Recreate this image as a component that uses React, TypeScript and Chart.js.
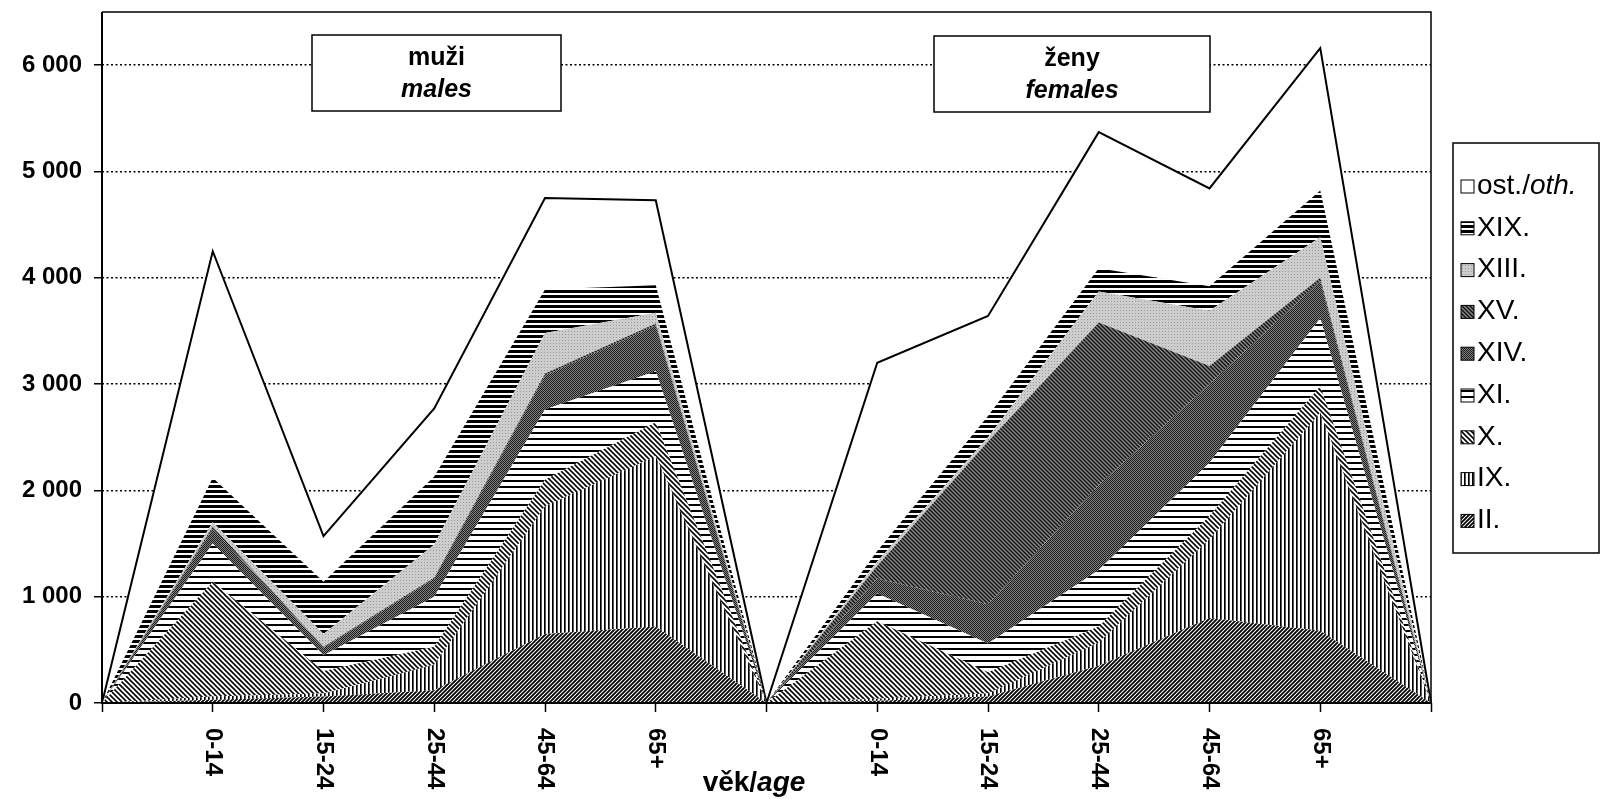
import React, { useEffect, useRef } from 'react';
import { Chart, registerables } from 'chart.js';
Chart.register(...registerables);

// ---- data (males: 0-14..65+, separator, females: 0-14..65+) ----
const categories = ['', '0-14', '15-24', '25-44', '45-64', '65+', '', '0-14', '15-24', '25-44', '45-64', '65+', ''];
const II = [0, 30, 60, 120, 650, 720, 0, 20, 60, 350, 800, 680, 0];
const IX = [0, 30, 30, 240, 1200, 1600, 0, 20, 30, 220, 740, 2050, 0];
const X = [0, 1080, 210, 170, 250, 320, 0, 730, 200, 150, 220, 250, 0];
const XI = [0, 360, 150, 470, 660, 480, 0, 260, 270, 530, 500, 640, 0];
const XIV = [0, 140, 70, 170, 320, 430, 0, 140, 370, 800, 740, 350, 0];
const XV = [0, 20, 10, 10, 20, 20, 0, 120, 1530, 1530, 170, 30, 0];
const XIII = [0, 40, 120, 310, 380, 100, 0, 40, 40, 290, 520, 380, 0];
const XIX = [0, 420, 490, 640, 410, 260, 0, 100, 200, 220, 230, 440, 0];
const OTH = [0, 2130, 430, 640, 860, 800, 0, 1770, 940, 1280, 920, 1340, 0];
const seriesNames = ['II.', 'IX.', 'X.', 'XI.', 'XIV.', 'XV.', 'XIII.', 'XIX.', 'ost./oth.'];
const legendOrder = [8, 7, 6, 5, 4, 3, 2, 1, 0];
const yTickValues = [0, 1000, 2000, 3000, 4000, 5000, 6000];
const panelTitles = [['muži', 'males'], ['ženy', 'females']];
const axisTitle = ['věk/', 'age'];
const yMax = 6500;

const FONT = '"Liberation Sans", Arial, sans-serif';

type Drawer = (g: CanvasRenderingContext2D, w: number, h: number) => void;
function mkPattern(w: number, h: number, draw: Drawer): CanvasPattern {
  const c = document.createElement('canvas');
  c.width = w; c.height = h;
  const g = c.getContext('2d')!;
  draw(g, w, h);
  return g.createPattern(c, 'repeat')!;
}
function diag(g: CanvasRenderingContext2D, p: number, dir: 1 | -1, color: string, lw: number) {
  g.strokeStyle = color; g.lineWidth = lw; g.lineCap = 'square';
  g.beginPath();
  if (dir === 1) { // "/"
    g.moveTo(-1, 1); g.lineTo(1, -1);
    g.moveTo(0, p); g.lineTo(p, 0);
    g.moveTo(p - 1, p + 1); g.lineTo(p + 1, p - 1);
  } else { // "\"
    g.moveTo(0, 0); g.lineTo(p, p);
    g.moveTo(-1, p - 1); g.lineTo(1, p + 1);
    g.moveTo(p - 1, -1); g.lineTo(p + 1, 1);
  }
  g.stroke();
}
function makePatterns(): (CanvasPattern | string)[] {
  const pII = mkPattern(4, 4, (g, w, h) => { g.fillStyle = '#fff'; g.fillRect(0, 0, w, h); diag(g, 4, 1, '#000', 1.8); });
  const pIX = mkPattern(4, 2, (g, w, h) => { g.fillStyle = '#fff'; g.fillRect(0, 0, w, h); g.fillStyle = '#000'; g.fillRect(0, 0, 1, h); g.fillStyle = '#555'; g.fillRect(1, 0, 1, h); });
  const pX = mkPattern(5, 5, (g, w, h) => { g.fillStyle = '#fff'; g.fillRect(0, 0, w, h); diag(g, 5, -1, '#000', 1.6); });
  const pXI = mkPattern(2, 6, (g, w, h) => { g.fillStyle = '#fff'; g.fillRect(0, 0, w, h); g.fillStyle = '#000'; g.fillRect(0, 0, w, 2); });
  const pXIV = mkPattern(2, 2, (g) => { g.fillStyle = '#808080'; g.fillRect(0, 0, 2, 2); g.fillStyle = '#1e1e1e'; g.fillRect(0, 0, 1, 1); g.fillRect(1, 1, 1, 1); });
  const pXV = mkPattern(4, 4, (g, w, h) => { g.fillStyle = '#888'; g.fillRect(0, 0, w, h); diag(g, 4, -1, '#111', 1.4); });
  const pXIII = mkPattern(3, 3, (g) => { g.fillStyle = '#cdcdcd'; g.fillRect(0, 0, 3, 3); g.fillStyle = '#9a9a9a'; g.fillRect(1, 1, 1, 1); });
  const pXIX = mkPattern(2, 5, (g, w, h) => { g.fillStyle = '#fff'; g.fillRect(0, 0, w, h); g.fillStyle = '#000'; g.fillRect(0, 0, w, 3); });
  return [pII, pIX, pX, pXI, pXIV, pXV, pXIII, pXIX, '#ffffff'];
}

function fmt(v: number): string {
  return String(v).replace(/\B(?=(\d{3})+(?!\d))/g, ' ');
}

export default function App() {
  const ref = useRef<HTMLCanvasElement>(null);
  useEffect(() => {
    const canvas = ref.current!;
    const pats = makePatterns();
    const series = [II, IX, X, XI, XIV, XV, XIII, XIX, OTH];

    const overlay = {
      id: 'overlay',
      afterDraw(chart: any) {
        const { ctx, chartArea: ca, scales } = chart;
        const xs = scales.x;
        ctx.save();
        // plot border & axes
        ctx.strokeStyle = '#000';
        ctx.lineWidth = 1.5;
        ctx.beginPath();
        ctx.moveTo(ca.left, ca.top); ctx.lineTo(ca.right, ca.top); ctx.lineTo(ca.right, ca.bottom);
        ctx.stroke();
        ctx.lineWidth = 2;
        ctx.beginPath();
        ctx.moveTo(ca.left, ca.top); ctx.lineTo(ca.left, ca.bottom); ctx.lineTo(ca.right, ca.bottom);
        ctx.stroke();

        // panel title boxes
        const boxes = [
          { x: 312, y: 35, w: 249, h: 76 },
          { x: 934, y: 36, w: 276, h: 76 },
        ];
        boxes.forEach((b, i) => {
          ctx.fillStyle = '#fff';
          ctx.fillRect(b.x, b.y, b.w, b.h);
          ctx.lineWidth = 1.5; ctx.strokeStyle = '#000';
          ctx.strokeRect(b.x, b.y, b.w, b.h);
          ctx.fillStyle = '#000';
          ctx.textAlign = 'center'; ctx.textBaseline = 'middle';
          const cx = b.x + b.w / 2;
          ctx.font = `bold 25px ${FONT}`;
          ctx.fillText(panelTitles[i][0], cx, b.y + 23);
          ctx.font = `italic bold 25px ${FONT}`;
          ctx.fillText(panelTitles[i][1], cx, b.y + 55);
        });

        // x category labels rotated clockwise
        ctx.font = `bold 24px ${FONT}`;
        ctx.fillStyle = '#000';
        ctx.textAlign = 'left'; ctx.textBaseline = 'middle';
        categories.forEach((c, i) => {
          if (!c) return;
          const px = xs.getPixelForValue(i);
          ctx.save();
          ctx.translate(px, ca.bottom + 25);
          ctx.rotate(Math.PI / 2);
          ctx.fillText(c, 0, 0);
          ctx.restore();
        });

        // axis title
        ctx.textBaseline = 'middle'; ctx.textAlign = 'left';
        ctx.font = `bold 28px ${FONT}`;
        const w1 = ctx.measureText(axisTitle[0]).width;
        ctx.font = `italic bold 28px ${FONT}`;
        const w2 = ctx.measureText(axisTitle[1]).width;
        const tx = 754 - (w1 + w2) / 2;
        ctx.font = `bold 28px ${FONT}`;
        ctx.fillText(axisTitle[0], tx, 783);
        ctx.font = `italic bold 28px ${FONT}`;
        ctx.fillText(axisTitle[1], tx + w1, 783);

        // legend
        const lx = 1453, ly = 143, lw = 146, lh = 410;
        ctx.fillStyle = '#fff';
        ctx.fillRect(lx, ly, lw, lh);
        ctx.lineWidth = 1.5; ctx.strokeStyle = '#000';
        ctx.strokeRect(lx, ly, lw, lh);
        const step = 41.8;
        legendOrder.forEach((si, k) => {
          const cy = 186 + k * step;
          ctx.fillStyle = pats[si] as any;
          ctx.fillRect(1461, cy - 6, 13, 13);
          ctx.lineWidth = 1; ctx.strokeStyle = '#000';
          ctx.strokeRect(1461, cy - 6, 13, 13);
          ctx.fillStyle = '#000';
          ctx.textAlign = 'left'; ctx.textBaseline = 'middle';
          const name = seriesNames[si];
          const fs = 28;
          if (name.includes('/')) {
            const [a, b] = name.split('/');
            ctx.font = `${fs}px ${FONT}`;
            ctx.fillText(a + '/', 1477, cy);
            const wa = ctx.measureText(a + '/').width;
            ctx.font = `italic ${fs}px ${FONT}`;
            ctx.fillText(b, 1477 + wa, cy);
          } else {
            ctx.font = `${fs}px ${FONT}`;
            ctx.fillText(name, 1477, cy);
          }
        });
        ctx.restore();
      },
    };

    const chart = new Chart(canvas, {
      type: 'line',
      data: {
        labels: categories,
        datasets: series.map((d, i) => ({
          label: seriesNames[i],
          data: d,
          backgroundColor: pats[i] as any,
          fill: i === 0 ? 'origin' : '-1',
          borderWidth: i === 8 ? 2 : 0,
          borderColor: i === 8 ? '#000' : 'rgba(0,0,0,0)',
          pointRadius: 0,
          pointHoverRadius: 0,
          tension: 0,
        })),
      },
      options: {
        responsive: false,
        animation: false,
        events: [],
        layout: { padding: { left: 0, right: 172, top: 12, bottom: 0 } },
        plugins: { legend: { display: false }, tooltip: { enabled: false }, title: { display: false } },
        scales: {
          x: {
            type: 'category',
            offset: false,
            grid: { display: true, drawOnChartArea: false, drawTicks: true, tickLength: 9, tickColor: '#000', tickWidth: 1.5 },
            ticks: { display: false },
            border: { display: false },
            afterFit: (s: any) => { s.height = 96; s.paddingLeft = 0; s.paddingRight = 0; },
          },
          y: {
            stacked: true,
            min: 0,
            max: yMax,
            ticks: {
              color: '#000',
              padding: 12,
              autoSkip: false,
              font: { family: FONT, size: 24, weight: 'bold' },
              callback: (v: any) => fmt(Number(v)),
            },
            grid: { color: '#000', lineWidth: 1.5, tickLength: 8, tickColor: '#000', tickWidth: 1.5 },
            border: { display: false, dash: [2, 2.5] },
            afterBuildTicks: (s: any) => { s.ticks = yTickValues.map((v) => ({ value: v })); },
            afterFit: (s: any) => { s.width = 102; s.paddingTop = 0; s.paddingBottom = 0; },
          },
        },
      },
      plugins: [overlay],
    });
    return () => chart.destroy();
  }, []);

  return (
    <canvas
      ref={ref}
      width={1603}
      height={799}
      style={{ position: 'fixed', left: 0, top: 0, width: 1603, height: 799, background: '#fff' }}
    />
  );
}
